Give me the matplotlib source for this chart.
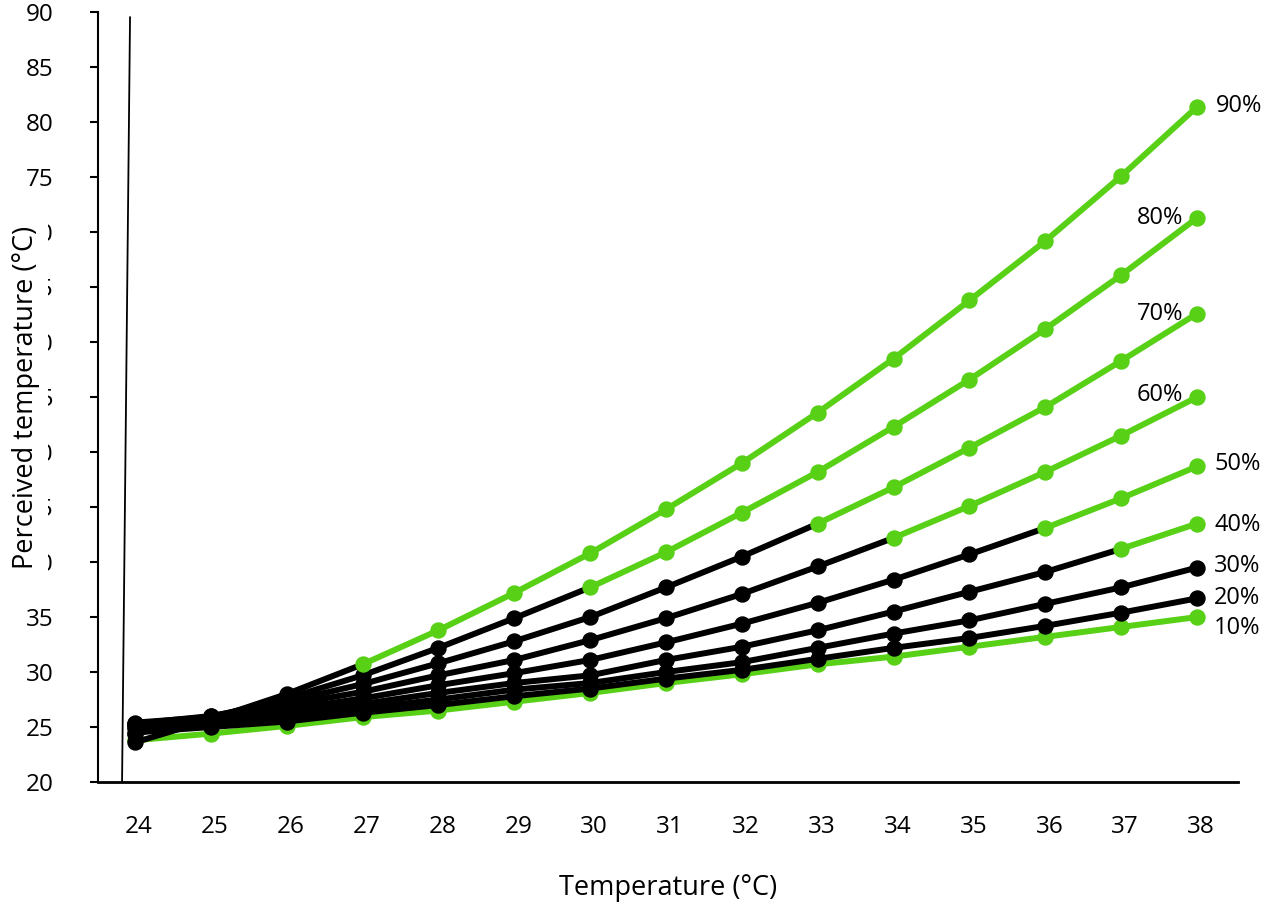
import matplotlib
matplotlib.use("Agg")
import matplotlib.pyplot as plt
from matplotlib.transforms import ScaledTranslation

plt.rcParams['font.family'] = ['Open Sans', 'DejaVu Sans']

temps = [24, 25, 26, 27, 28, 29, 30, 31, 32, 33, 34, 35, 36, 37, 38]
tick_labels = [str(t) for t in temps]
y_ticks = [20, 25, 30, 35, 40, 45, 50, 55, 60, 65, 70, 75, 80, 85, 90]

h10 = [23.8, 24.4, 25.1, 25.9, 26.5, 27.3, 28.1, 29.0, 29.8, 30.7, 31.4, 32.3, 33.2, 34.1, 35.0]
h20 = [24.5, 25.0, 25.5, 26.3, 27.0, 27.8, 28.5, 29.4, 30.2, 31.2, 32.2, 33.1, 34.2, 35.4, 36.7]
h30 = [25.0, 25.4, 25.9, 26.7, 27.5, 28.4, 29.0, 30.0, 30.9, 32.2, 33.5, 34.7, 36.2, 37.7, 39.5]
h40 = [25.3, 25.7, 26.3, 27.1, 28.1, 29.0, 29.7, 31.1, 32.3, 33.8, 35.5, 37.3, 39.1, 41.2, 43.5]
h50 = [25.4, 25.9, 26.6, 27.6, 28.8, 29.9, 31.1, 32.7, 34.4, 36.3, 38.4, 40.7, 43.1, 45.8, 48.7]
h60 = [25.3, 26.0, 27.0, 28.2, 29.7, 31.1, 32.9, 34.9, 37.1, 39.6, 42.2, 45.1, 48.2, 51.5, 55.0]
h70 = [24.9, 26.0, 27.3, 28.9, 30.8, 32.8, 35.0, 37.7, 40.5, 43.5, 46.8, 50.4, 54.1, 58.3, 62.6]
h80 = [24.4, 25.9, 27.6, 29.7, 32.2, 34.9, 37.7, 40.9, 44.5, 48.2, 52.3, 56.6, 61.2, 66.1, 71.3]
h90 = [23.6, 25.7, 28.0, 30.7, 33.8, 37.2, 40.8, 44.8, 49.0, 53.6, 58.5, 63.8, 69.2, 75.1, 81.4]

series = [h10, h20, h30, h40, h50, h60, h70, h80, h90]
names = ['10%', '20%', '30%', '40%', '50%', '60%', '70%', '80%', '90%']
# first temperature from which the series is drawn green (None = all black)
green_from = [24, None, None, 37, 36, 34, 33, 30, 27]

GREEN = '#57d016'
BLACK = '#000000'

fig = plt.figure(figsize=(12.78, 9.06), dpi=100)
ax = fig.add_axes([98/1278, 1-782/906, 1140/1278, (782-12.3)/906])

lw = 4.3
ms = 10.8
for i, (vals, g) in enumerate(zip(series, green_from)):
    z = 3 + i * 0.1
    gi = len(temps) if g is None else temps.index(g)
    if gi > 0:
        ax.plot(temps[:gi + 1], vals[:gi + 1], color=BLACK, lw=lw,
                solid_capstyle='round', zorder=z)
    if gi < len(temps):
        ax.plot(temps[gi:], vals[gi:], color=GREEN, lw=lw,
                solid_capstyle='round', zorder=z)
    if gi > 0:
        ax.plot(temps[:gi], vals[:gi], 'o', color=BLACK, ms=ms, zorder=z + 0.05)
    if gi < len(temps):
        ax.plot(temps[gi:], vals[gi:], 'o', color=GREEN, ms=ms, zorder=z + 0.05)

LABEL_FS = 17
TICK_FS = 17.5
AXLABEL_FS = 19.5

label_offsets = {
    '90%': (19, 1, 'left'),
    '80%': (-14, 0, 'right'),
    '70%': (-14, 0, 'right'),
    '60%': (-14, 2, 'right'),
    '50%': (17, 2, 'left'),
    '40%': (17, -1, 'left'),
    '30%': (17, 2, 'left'),
    '20%': (17, 0, 'left'),
    '10%': (17, -11, 'left'),
}
for name, vals in zip(names, series):
    dx, dy, ha = label_offsets[name]
    ax.annotate(name, (temps[-1], vals[-1]), xytext=(dx, dy),
                textcoords='offset pixels', ha=ha, va='center',
                fontsize=LABEL_FS, color='black')

ax.set_xlim(23.512, 38.54)
ax.set_ylim(20, 90)
ax.set_yticks(y_ticks)
ax.set_yticklabels([str(v) for v in y_ticks])
ax.set_xticks(temps)
ax.set_xticklabels(tick_labels)

for s in ['top', 'right']:
    ax.spines[s].set_visible(False)
ax.spines['left'].set_linewidth(1.5)
ax.spines['bottom'].set_linewidth(2)

ax.tick_params(axis='y', direction='out', length=6, width=1.5, pad=26,
               labelsize=TICK_FS)
ax.tick_params(axis='x', length=0, pad=24, labelsize=TICK_FS)
for lab in ax.get_xticklabels():
    lab.set_transform(lab.get_transform() + ScaledTranslation(4/100, 0, fig.dpi_scale_trans))

ax.set_xlabel('Temperature (°C)', fontsize=AXLABEL_FS, va='center')
ax.xaxis.set_label_coords(0.5, -(888 - 782) / 770)
ax.set_ylabel('Perceived temperature (°C)', fontsize=AXLABEL_FS, va='center',
              bbox=dict(facecolor='white', edgecolor='none',
                        boxstyle='square,pad=0.3'))
ax.yaxis.set_label_coords((26 - 98) / 1140, 0.5)

# thin stray line near the y axis
ax.plot([0.0211, 0.0281], [0.0, 0.9935], transform=ax.transAxes,
        color='black', lw=1.3, zorder=2, clip_on=False)

fig.savefig('out.png', dpi=100)
